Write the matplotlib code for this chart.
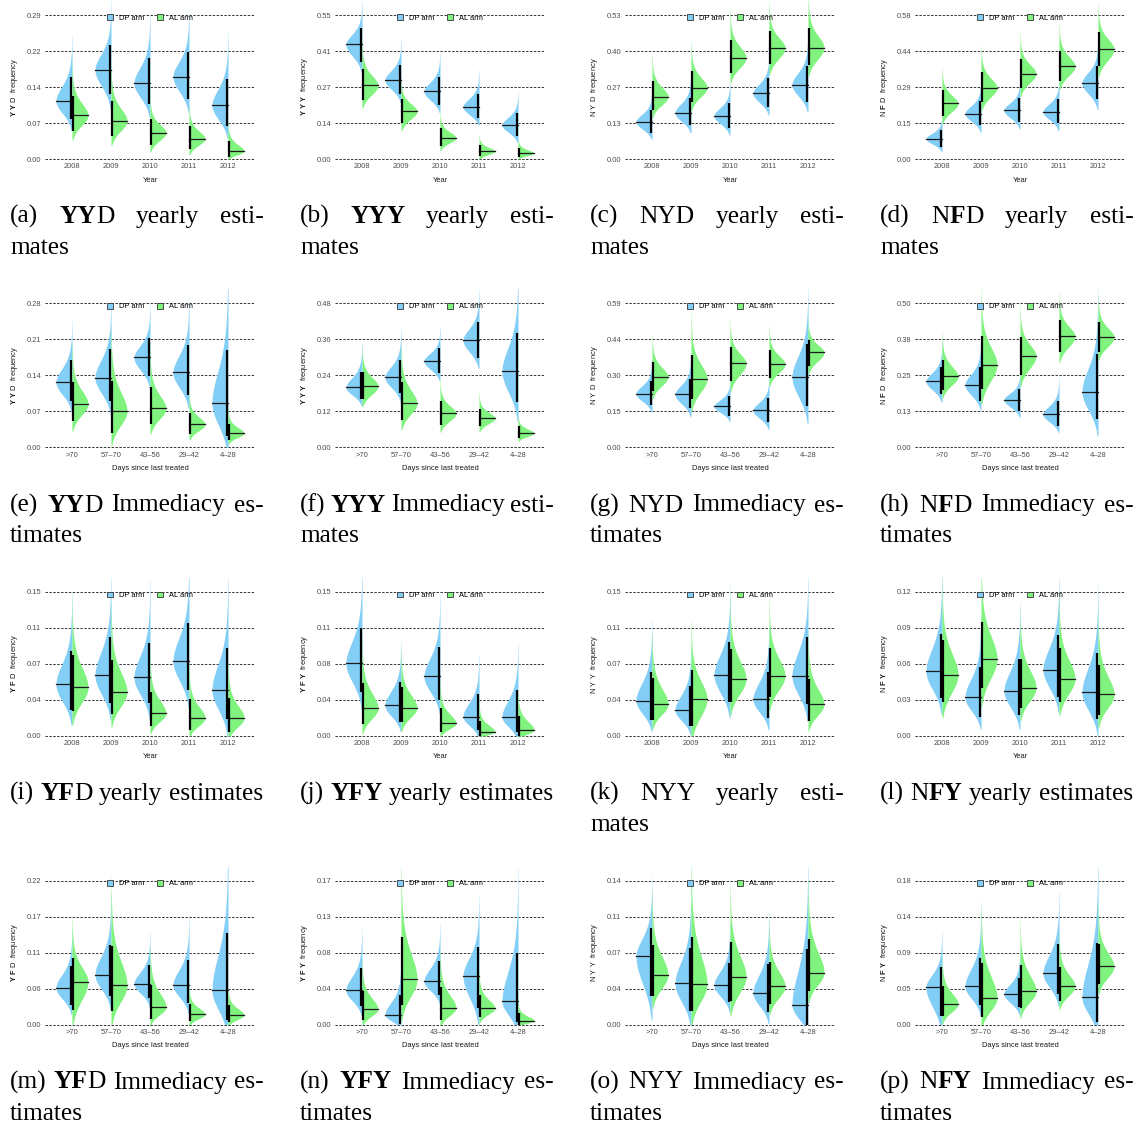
import numpy as np
import matplotlib
matplotlib.use("Agg")
import matplotlib.pyplot as plt
from matplotlib.patches import Patch

plt.rcParams["font.family"] = ["Liberation Sans", "DejaVu Sans"]
plt.rcParams["mathtext.fontset"] = "custom"
plt.rcParams["mathtext.rm"] = "Liberation Sans"
plt.rcParams["mathtext.bf"] = "Liberation Sans:bold"

years = ["2008", "2009", "2010", "2011", "2012"]
days = [">70", "57\u201370", "43\u201356", "29\u201342", "4\u201328"]

# posterior summaries per group: (median, lower, upper)
yyd_year_dp = [(0.117, 0.080, 0.165), (0.180, 0.131, 0.230), (0.153, 0.110, 0.204), (0.166, 0.121, 0.215), (0.108, 0.066, 0.161)]
yyd_year_al = [(0.088, 0.057, 0.127), (0.077, 0.046, 0.117), (0.053, 0.029, 0.080), (0.041, 0.021, 0.066), (0.016, 0.005, 0.037)]
yyy_year_dp = [(0.438, 0.371, 0.499), (0.302, 0.248, 0.359), (0.259, 0.208, 0.314), (0.199, 0.155, 0.250), (0.130, 0.088, 0.177)]
yyy_year_al = [(0.281, 0.227, 0.343), (0.183, 0.136, 0.229), (0.081, 0.051, 0.117), (0.030, 0.011, 0.053), (0.022, 0.008, 0.043)]
nyd_year_dp = [(0.137, 0.097, 0.182), (0.170, 0.124, 0.225), (0.159, 0.115, 0.207), (0.242, 0.192, 0.297), (0.274, 0.211, 0.344)]
nyd_year_al = [(0.230, 0.182, 0.286), (0.263, 0.211, 0.324), (0.373, 0.315, 0.439), (0.409, 0.348, 0.470), (0.410, 0.345, 0.482)]
nfd_year_dp = [(0.082, 0.050, 0.117), (0.183, 0.137, 0.233), (0.197, 0.150, 0.244), (0.191, 0.143, 0.241), (0.307, 0.240, 0.374)]
nfd_year_al = [(0.224, 0.173, 0.277), (0.287, 0.230, 0.349), (0.344, 0.287, 0.404), (0.374, 0.315, 0.437), (0.443, 0.374, 0.510)]

yyd_days_dp = [(0.127, 0.091, 0.170), (0.136, 0.091, 0.191), (0.175, 0.139, 0.212), (0.146, 0.102, 0.199), (0.086, 0.023, 0.189)]
yyd_days_al = [(0.085, 0.052, 0.127), (0.071, 0.029, 0.130), (0.076, 0.045, 0.117), (0.045, 0.026, 0.068), (0.028, 0.015, 0.046)]
yyy_days_dp = [(0.200, 0.162, 0.253), (0.234, 0.183, 0.292), (0.288, 0.247, 0.330), (0.358, 0.299, 0.419), (0.255, 0.150, 0.382)]
yyy_days_al = [(0.205, 0.162, 0.253), (0.147, 0.092, 0.219), (0.114, 0.075, 0.155), (0.098, 0.070, 0.129), (0.048, 0.031, 0.070)]
nyd_days_dp = [(0.221, 0.174, 0.273), (0.218, 0.161, 0.279), (0.169, 0.131, 0.211), (0.153, 0.104, 0.204), (0.290, 0.170, 0.426)]
nyd_days_al = [(0.290, 0.233, 0.352), (0.281, 0.199, 0.379), (0.345, 0.273, 0.410), (0.342, 0.286, 0.399), (0.390, 0.335, 0.440)]
nfd_days_dp = [(0.230, 0.185, 0.278), (0.218, 0.163, 0.278), (0.166, 0.128, 0.203), (0.115, 0.076, 0.162), (0.194, 0.098, 0.323)]
nfd_days_al = [(0.247, 0.200, 0.304), (0.288, 0.202, 0.387), (0.318, 0.252, 0.382), (0.386, 0.330, 0.442), (0.383, 0.333, 0.436)]

yfd_year_dp = [(0.0538, 0.0271, 0.0885), (0.0632, 0.0340, 0.1028), (0.0611, 0.0340, 0.0972), (0.0781, 0.0479, 0.1174), (0.0479, 0.0174, 0.0920)]
yfd_year_al = [(0.0507, 0.0264, 0.0844), (0.0458, 0.0229, 0.0792), (0.0236, 0.0104, 0.0455), (0.0188, 0.0063, 0.0382), (0.0188, 0.0045, 0.0400)]
yfy_year_dp = [(0.0757, 0.0462, 0.1128), (0.0319, 0.0149, 0.0559), (0.0622, 0.0380, 0.0930), (0.0201, 0.0063, 0.0434), (0.0198, 0.0045, 0.0479)]
yfy_year_al = [(0.0288, 0.0122, 0.0549), (0.0295, 0.0142, 0.0514), (0.0132, 0.0045, 0.0288), (0.0045, 0.0000, 0.0156), (0.0063, 0.0000, 0.0208)]
nyy_year_dp = [(0.0368, 0.0167, 0.0670), (0.0271, 0.0108, 0.0520), (0.0639, 0.0358, 0.0976), (0.0382, 0.0184, 0.0670), (0.0628, 0.0330, 0.1028)]
nyy_year_al = [(0.0330, 0.0167, 0.0600), (0.0389, 0.0108, 0.0688), (0.0594, 0.0358, 0.0903), (0.0628, 0.0403, 0.0920), (0.0330, 0.0156, 0.0594)]
nfy_year_dp = [(0.0539, 0.0314, 0.0850), (0.0322, 0.0156, 0.0572), (0.0375, 0.0175, 0.0642), (0.0553, 0.0328, 0.0842), (0.0364, 0.0139, 0.0694)]
nfy_year_al = [(0.0511, 0.0286, 0.0800), (0.0644, 0.0397, 0.0953), (0.0403, 0.0231, 0.0642), (0.0478, 0.0286, 0.0731), (0.0347, 0.0175, 0.0592)]

yfd_days_dp = [(0.0564, 0.0305, 0.0889), (0.0762, 0.0432, 0.1209), (0.0625, 0.0406, 0.0904), (0.0605, 0.0330, 0.0980), (0.0523, 0.0076, 0.1397)]
yfd_days_al = [(0.0655, 0.0229, 0.1016), (0.0605, 0.0213, 0.1194), (0.0264, 0.0091, 0.0610), (0.0157, 0.0051, 0.0315), (0.0147, 0.0041, 0.0305)]
yfy_days_dp = [(0.0404, 0.0216, 0.0667), (0.0114, 0.0008, 0.0353), (0.0510, 0.0345, 0.0754), (0.0573, 0.0196, 0.0915), (0.0275, 0.0031, 0.0844)]
yfy_days_al = [(0.0181, 0.0059, 0.0393), (0.0534, 0.0228, 0.1033), (0.0196, 0.0059, 0.0440), (0.0192, 0.0086, 0.0353), (0.0047, 0.0000, 0.0130)]
nyy_days_dp = [(0.0663, 0.0275, 0.0938), (0.0401, 0.0136, 0.0744), (0.0385, 0.0220, 0.0598), (0.0307, 0.0120, 0.0592), (0.0188, 0.0000, 0.0734)]
nyy_days_al = [(0.0485, 0.0281, 0.0776), (0.0394, 0.0136, 0.0847), (0.0466, 0.0226, 0.0799), (0.0372, 0.0200, 0.0605), (0.0504, 0.0323, 0.0831)]
nfy_days_dp = [(0.0466, 0.0104, 0.0719), (0.0478, 0.0250, 0.0831), (0.0382, 0.0216, 0.0582), (0.0640, 0.0382, 0.1006), (0.0341, 0.0033, 0.1018)]
nfy_days_al = [(0.0258, 0.0104, 0.0478), (0.0333, 0.0091, 0.0769), (0.0416, 0.0208, 0.0740), (0.0478, 0.0299, 0.0715), (0.0727, 0.0511, 0.1006)]

# y tick labels of every panel
yyd_year_ticks = ["0.00", "0.07", "0.14", "0.22", "0.29"]
yyy_year_ticks = ["0.00", "0.14", "0.27", "0.41", "0.55"]
nyd_year_ticks = ["0.00", "0.13", "0.27", "0.40", "0.53"]
nfd_year_ticks = ["0.00", "0.15", "0.29", "0.44", "0.58"]
yyd_days_ticks = ["0.00", "0.07", "0.14", "0.21", "0.28"]
yyy_days_ticks = ["0.00", "0.12", "0.24", "0.36", "0.48"]
nyd_days_ticks = ["0.00", "0.15", "0.30", "0.44", "0.59"]
nfd_days_ticks = ["0.00", "0.13", "0.25", "0.38", "0.50"]
yfd_year_ticks = ["0.00", "0.04", "0.07", "0.11", "0.15"]
yfy_year_ticks = ["0.00", "0.04", "0.08", "0.11", "0.15"]
nyy_year_ticks = ["0.00", "0.04", "0.07", "0.11", "0.15"]
nfy_year_ticks = ["0.00", "0.03", "0.06", "0.09", "0.12"]
yfd_days_ticks = ["0.00", "0.06", "0.11", "0.17", "0.22"]
yfy_days_ticks = ["0.00", "0.04", "0.08", "0.13", "0.17"]
nyy_days_ticks = ["0.00", "0.04", "0.07", "0.11", "0.14"]
nfy_days_ticks = ["0.00", "0.05", "0.09", "0.14", "0.18"]

# caption markup: ** toggles bold, | breaks the line
captions = [
    "(a) **YY**D yearly esti-|mates",
    "(b) **YYY** yearly esti-|mates",
    "(c) NYD yearly esti-|mates",
    "(d) N**F**D yearly esti-|mates",
    "(e) **YY**D Immediacy es-|timates",
    "(f) **YYY** Immediacy esti-|mates",
    "(g) NYD Immediacy es-|timates",
    "(h) N**F**D Immediacy es-|timates",
    "(i) **YF**D yearly estimates",
    "(j) **YFY** yearly estimates",
    "(k) NYY yearly esti-|mates",
    "(l) N**FY** yearly estimates",
    "(m) **YF**D Immediacy es-|timates",
    "(n) **YFY** Immediacy es-|timates",
    "(o) NYY Immediacy es-|timates",
    "(p) N**FY** Immediacy es-|timates",
]

panels = [
    (years, yyd_year_dp, yyd_year_al, yyd_year_ticks),
    (years, yyy_year_dp, yyy_year_al, yyy_year_ticks),
    (years, nyd_year_dp, nyd_year_al, nyd_year_ticks),
    (years, nfd_year_dp, nfd_year_al, nfd_year_ticks),
    (days, yyd_days_dp, yyd_days_al, yyd_days_ticks),
    (days, yyy_days_dp, yyy_days_al, yyy_days_ticks),
    (days, nyd_days_dp, nyd_days_al, nyd_days_ticks),
    (days, nfd_days_dp, nfd_days_al, nfd_days_ticks),
    (years, yfd_year_dp, yfd_year_al, yfd_year_ticks),
    (years, yfy_year_dp, yfy_year_al, yfy_year_ticks),
    (years, nyy_year_dp, nyy_year_al, nyy_year_ticks),
    (years, nfy_year_dp, nfy_year_al, nfy_year_ticks),
    (days, yfd_days_dp, yfd_days_al, yfd_days_ticks),
    (days, yfy_days_dp, yfy_days_al, yfy_days_ticks),
    (days, nyy_days_dp, nyy_days_al, nyy_days_ticks),
    (days, nfy_days_dp, nfy_days_al, nfy_days_ticks),
]

DP_COLOR = "#82cef7"
AL_COLOR = "#80f27e"
W, H = 1144, 1124
HALF = 0.41      # half-violin width in category units
SMALL = 5.4      # axis text size
CAP_FS = 18.3
SERIF = "Liberation Serif"

fig = plt.figure(figsize=(W / 100, H / 100), dpi=100)
renderer = fig.canvas.get_renderer()


def half_violin(ax, x, stats, side, color):
    med, lo, hi = stats
    s_lo = max(med - lo, 1e-4) / 1.5
    s_hi = max(hi - med, 1e-4) / 1.5
    ys = np.linspace(max(med - 2.4 * s_lo, 0.0), med + 4.2 * s_hi, 400)
    below = ys < med
    dens = np.where(below,
                    np.exp(-0.5 * ((ys - med) / s_lo) ** 2),
                    (1 + ((ys - med) / s_hi) ** 2 / 5) ** -3)
    ax.fill_betweenx(ys, x, x + side * HALF * dens, color=color, lw=0, zorder=2)


def parse_word(word):
    parts = word.split("**")
    return [(p, i % 2 == 1) for i, p in enumerate(parts) if p]


def text_width(s, bold):
    t = fig.text(0, 0, s, fontsize=CAP_FS, family=SERIF, weight="bold" if bold else "normal")
    w = t.get_window_extent(renderer).width
    t.remove()
    return w


def draw_caption(spec, x_left, x_right, y_base, line_h=31):
    lines = spec.split("|")
    space = text_width("a a", False) - text_width("aa", False)
    for li, line in enumerate(lines):
        words = [parse_word(w) for w in line.split(" ")]
        widths = [sum(text_width(s, b) for s, b in segs) for segs in words]
        if li < len(lines) - 1:
            gap = (x_right - x_left - sum(widths)) / (len(words) - 1)
        else:
            gap = space
        x = x_left
        y = y_base + li * line_h
        for segs, w in zip(words, widths):
            xs = x
            for s, b in segs:
                fig.text(xs / W, 1 - y / H, s, fontsize=CAP_FS, family=SERIF,
                         weight="bold" if b else "normal", va="baseline", ha="left")
                xs += text_width(s, b)
            x += w + gap


def ylabel_text(spec):
    code = spec.split(" ")[1]
    pieces = []
    for s, b in parse_word(code):
        for ch in s:
            pieces.append(r"\mathbf{%s}" % ch if b else r"\mathrm{%s}" % ch)
    return "$" + r"\ ".join(pieces) + "$  frequency"


for k, (cats, dp, al, ticks) in enumerate(panels):
    col, row = k % 4, k // 4
    left, right = 45 + 290 * col, 255 + 290 * col
    zero = 159 + 288.5 * row
    top = 15 + 288.5 * row
    ymax = float(ticks[-1])
    pxu = (zero - top) / ymax
    ax_top, ax_bot = top - 14, zero + 3
    ax = fig.add_axes([left / W, 1 - ax_bot / H, (right - left) / W, (ax_bot - ax_top) / H])
    ax.set_xlim(-0.692, 4.692)
    ax.set_ylim(-3 / pxu, ymax + 14 / pxu)
    ax.patch.set_visible(False)
    for sp in ax.spines.values():
        sp.set_visible(False)

    yt = np.linspace(0, ymax, 5)
    for v in yt:
        ax.axhline(v, color="#333333", lw=0.7, ls=(0, (2.5, 1.5)), zorder=1)
    ax.set_yticks(yt)
    ax.set_yticklabels(ticks)
    xs = np.arange(len(cats))
    ax.set_xticks(xs)
    ax.set_xticklabels(cats)
    ax.tick_params(length=0, labelsize=SMALL, colors="#4d4d4d")
    ax.tick_params(axis="y", pad=2.6)
    ax.tick_params(axis="x", pad=0.8)

    for i in xs:
        half_violin(ax, i, dp[i], -1, DP_COLOR)
        half_violin(ax, i, al[i], 1, AL_COLOR)
    for i in xs:
        ax.plot([i - HALF, i], [dp[i][0]] * 2, color="#1a1a1a", lw=0.9, zorder=3)
        ax.plot([i, i + HALF], [al[i][0]] * 2, color="#1a1a1a", lw=0.9, zorder=3)
        ax.plot([i - 0.022] * 2, [dp[i][1], dp[i][2]], color="black", lw=1.6,
                solid_capstyle="butt", zorder=4)
        ax.plot([i + 0.022] * 2, [al[i][1], al[i][2]], color="black", lw=1.6,
                solid_capstyle="butt", zorder=4)

    handles = [Patch(facecolor=DP_COLOR, edgecolor="#333333", lw=0.6, label="DP arm"),
               Patch(facecolor=AL_COLOR, edgecolor="#333333", lw=0.6, label="AL arm")]
    leg_y = (ax_bot - (top - 0.5)) / (ax_bot - ax_top)
    ax.legend(handles=handles, loc="upper center", bbox_to_anchor=(0.5, leg_y), ncol=2,
              frameon=False, fontsize=SMALL, handlelength=0.8, handleheight=0.8,
              handletextpad=0.7, columnspacing=1.8, borderaxespad=0, borderpad=0)

    xlab = "Year" if cats is years else "Days since last treated"
    fig.text((left + right) / 2 / W, 1 - (zero + 21) / H, xlab, fontsize=SMALL,
             color="#1a1a1a", ha="center", va="center")
    fig.text((14 + 290 * col) / W, 1 - (top + zero) / 2 / H, ylabel_text(captions[k]),
             fontsize=SMALL, color="#1a1a1a", rotation=90, ha="center", va="center")

    draw_caption(captions[k], 10 + 290 * col, 264 + 290 * col, 223 + 288.5 * row)

fig.savefig("out.png", dpi=100)
